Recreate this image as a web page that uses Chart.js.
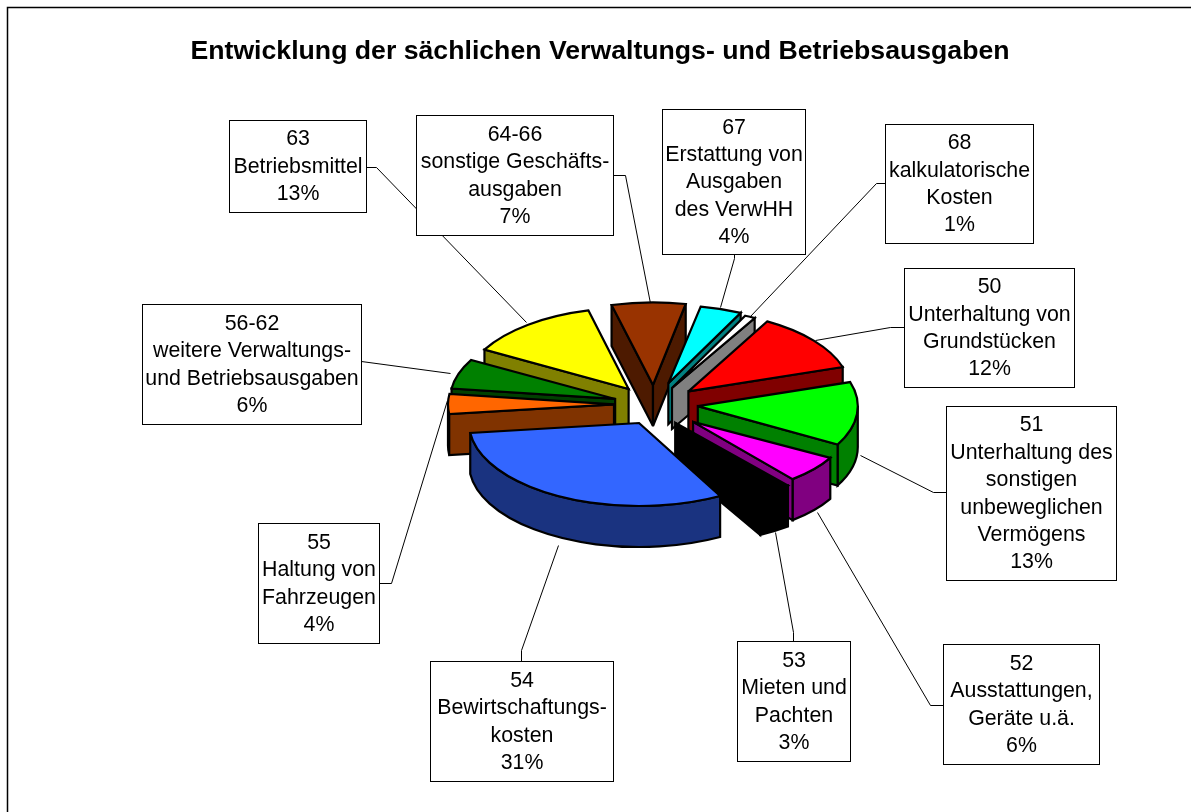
<!DOCTYPE html>
<html><head><meta charset="utf-8">
<style>html,body{margin:0;padding:0;background:#fff}#wrap{position:absolute;left:0;top:0;width:1191px;height:812px}</style>
<script src="https://cdn.jsdelivr.net/npm/chart.js@4"></script>
</head><body><div id="wrap"><canvas id="c" width="1191" height="812"></canvas></div>
<script>
const categories = ["50","51","52","53","54","55","56-62","63","64-66","67","68"];
const labelLines = [
  ["50","Unterhaltung von","Grundstücken"],
  ["51","Unterhaltung des","sonstigen","unbeweglichen","Vermögens"],
  ["52","Ausstattungen,","Geräte u.ä."],
  ["53","Mieten und","Pachten"],
  ["54","Bewirtschaftungs-","kosten"],
  ["55","Haltung von","Fahrzeugen"],
  ["56-62","weitere Verwaltungs-","und Betriebsausgaben"],
  ["63","Betriebsmittel"],
  ["64-66","sonstige Geschäfts-","ausgaben"],
  ["67","Erstattung von","Ausgaben","des VerwHH"],
  ["68","kalkulatorische","Kosten"]
];
const shares = [12,13,6,3,31,4,6,13,7,4,1];
const topColors = ["#FF0000","#00FF00","#FF00FF","#000000","#3366FF","#FF6600","#008000","#FFFF00","#993300","#00FFFF","#FFFFFF"];
const sideColors = ["#800000","#008000","#800080","#000000","#1A3380","#803300","#004000","#808000","#4D1A00","#008080","#808080"];
const drawOrder = [8,9,10,7,0,6,5,1,2,3,4];
// box: left, top, right, bottom; leader: polyline from box edge to slice
const boxes = [
  [904,268,1074,387],[946,406,1116,580],[943,644,1099,764],[737,641,850,761],[430,661,613,781],
  [258,523,379,643],[142,304,361,424],[229,120,366,212],[416,115,613,235],[662,109,805,254],[885,124,1033,243]
];
const leaders = [
  [[904,327],[890,327],[815,340]],
  [[946,492],[933,492],[860,455]],
  [[943,705],[930,705],[817,512]],
  [[793,641],[793,632],[775,532]],
  [[521,661],[521,650],[558,545]],
  [[379,583],[391,583],[447,400]],
  [[361,361],[450,373]],
  [[366,167],[376,167],[526,322]],
  [[613,175],[625,175],[650,303]],
  [[734,254],[734,258],[720,307]],
  [[885,183],[876,183],[750,316]]
];
const view = {cx:655.5, cy:406.5, tilt:0.49, depth:41, line:2.2};
// perspective correction per slice: tip shift x, tip shift y, rim radius x, rim radius y
const perspective = [
  [0,-2,162,80],[0,-2.5,160,79],[5,2,157,74],[-4,-1,178,81],[3,-2,170,83],[1,-2,166,80],
  [0,-1,165,80],[-1,-1,165,81],[-1.4,-.7,170,82.5],[-.5,-3.5,168,78],[-3,0,170,80]
];
const FONT = '"Liberation Sans", Arial, sans-serif';

const pie3d = {
  id:'pie3d',
  beforeDraw(chart){
    const ctx = chart.ctx;
    ctx.save();
    ctx.fillStyle='#fff'; ctx.fillRect(0,0,chart.width,chart.height);
    ctx.strokeStyle='#000'; ctx.lineWidth=1.5;
    ctx.beginPath();ctx.moveTo(7.5,chart.height);ctx.lineTo(7.5,7.5);ctx.lineTo(chart.width,7.5);ctx.stroke();
    ctx.restore();
  },
  beforeDatasetDraw(chart, args){
    const ctx = chart.ctx, arcs = args.meta.data;
    ctx.save();
    ctx.lineJoin='miter'; ctx.miterLimit=3;
    ctx.lineWidth=view.line; ctx.strokeStyle='#000';
    ctx.save(); ctx.lineWidth=1; ctx.strokeStyle='#000';
    leaders.forEach(l=>{ctx.beginPath();l.forEach((p,i)=>i?ctx.lineTo(p[0]+.5,p[1]+.5):ctx.moveTo(p[0]+.5,p[1]+.5));ctx.stroke();});
    ctx.restore();
    drawOrder.forEach(i=>{
      const arc = arcs[i], a0 = arc.startAngle, a1 = arc.endAngle, half=(a0+a1)/2, d=view.depth;
      const [fx,fy,rx,ry] = perspective[i];
      const e = arc.options.offset/4;
      const tx = view.cx + e*Math.cos(half) + fx, ty = view.cy + e*Math.sin(half)*view.tilt + fy;
      const side = sideColors[i];
      const rim = a=>[tx+rx*Math.cos(a), ty+ry*Math.sin(a)];
      const wall = a=>{
        const p = rim(a);
        ctx.beginPath();ctx.moveTo(tx,ty);ctx.lineTo(p[0],p[1]);ctx.lineTo(p[0],p[1]+d);ctx.lineTo(tx,ty+d);ctx.closePath();
        ctx.fillStyle=side;ctx.fill();ctx.stroke();
      };
      for(let k=-1;k<=2;k++){
        const lo=Math.max(a0,k*2*Math.PI), hi=Math.min(a1,k*2*Math.PI+Math.PI);
        if(hi>lo){
          ctx.beginPath();
          ctx.ellipse(tx,ty,rx,ry,0,lo,hi,false);
          ctx.ellipse(tx,ty+d,rx,ry,0,hi,lo,true);
          ctx.closePath();ctx.fillStyle=side;ctx.fill();ctx.stroke();
        }
      }
      if(-Math.cos(a0)>0) wall(a0);
      if(Math.cos(a1)>0) wall(a1);
      ctx.beginPath();ctx.moveTo(tx,ty);
      ctx.ellipse(tx,ty,rx,ry,0,a0,a1,false);
      ctx.closePath();ctx.fillStyle=arc.options.backgroundColor;ctx.fill();ctx.stroke();
    });
    ctx.restore();
    return false;
  },
  afterDatasetsDraw(chart){
    const ctx = chart.ctx, total = shares.reduce((a,b)=>a+b,0);
    ctx.save();
    ctx.font='21.33px '+FONT; ctx.textAlign='center'; ctx.textBaseline='middle';
    boxes.forEach((b,i)=>{
      ctx.fillStyle='#fff';ctx.fillRect(b[0],b[1],b[2]-b[0],b[3]-b[1]);
      ctx.strokeStyle='#000';ctx.lineWidth=1;ctx.strokeRect(b[0]+.5,b[1]+.5,b[2]-b[0],b[3]-b[1]);
      const lines = labelLines[i].concat([Math.round(shares[i]/total*100)+'%']);
      const lh=27.4, my=(b[1]+b[3])/2+1, cx=(b[0]+b[2])/2+.5;
      ctx.fillStyle='#000';
      lines.forEach((t,j)=>ctx.fillText(t,cx,my+(j-(lines.length-1)/2)*lh));
    });
    ctx.restore();
  }
};
new Chart(document.getElementById('c'),{
  type:'pie',
  data:{labels:categories,datasets:[{data:shares,backgroundColor:topColors,borderColor:'#000',borderWidth:0,offset:170}]},
  options:{
    responsive:false,animation:false,
    radius:165,rotation:29.1,
    layout:{padding:{left:9}},
    plugins:{
      legend:{display:false},tooltip:{enabled:false},
      title:{display:true,text:'Entwicklung der sächlichen Verwaltungs- und Betriebsausgaben',color:'#000',
        font:{family:FONT,size:26.67,weight:'bold'},padding:{top:35.5,bottom:4}}
    }
  },
  plugins:[pie3d]
});
</script></body></html>
